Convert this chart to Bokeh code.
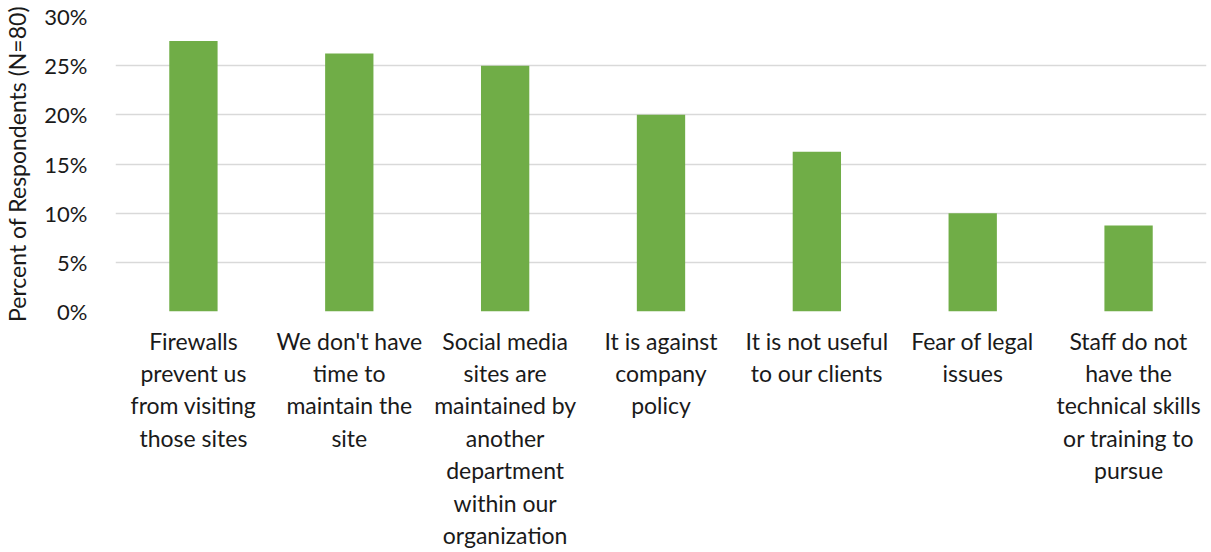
from bokeh.plotting import figure
from bokeh.models import FixedTicker, Range1d
from bokeh.embed import file_html
from bokeh.resources import INLINE

categories = [
    "Firewalls\nprevent us\nfrom visiting\nthose sites",
    "We don't have\ntime to\nmaintain the\nsite",
    "Social media\nsites are\nmaintained by\nanother\ndepartment\nwithin our\norganization",
    "It is against\ncompany\npolicy",
    "It is not useful\nto our clients",
    "Fear of legal\nissues",
    "Staff do not\nhave the\ntechnical skills\nor training to\npursue",
]
percent = [27.5, 26.25, 25.0, 20.0, 16.25, 10.0, 8.75]
y_ticks = [0, 5, 10, 15, 20, 25, 30]
y_tick_labels = ["0%", "5%", "10%", "15%", "20%", "25%", "30%"]

FONT = "Lato"
TXT = "#1a1a1a"

p = figure(x_range=categories, y_range=Range1d(0, 30), width=1211, height=552,
           output_backend="svg", toolbar_location=None,
           min_border_left=112, min_border_right=5, min_border_top=16, min_border_bottom=241)

p.vbar(x=categories, top=percent, width=0.31, color="#70AD47", line_color=None)

p.outline_line_color = None
p.xgrid.grid_line_color = None
p.ygrid.grid_line_color = "#D9D9D9"
p.ygrid.grid_line_width = 1.5
p.yaxis.ticker = FixedTicker(ticks=y_ticks)
p.yaxis.major_label_overrides = {t: l for t, l in zip(y_ticks, y_tick_labels)}

for ax in (p.xaxis[0], p.yaxis[0]):
    ax.axis_line_color = None
    ax.major_tick_line_color = None
    ax.minor_tick_line_color = None
    ax.major_label_text_font = FONT
    ax.major_label_text_color = TXT

p.xaxis.major_label_text_font_size = "23px"
p.yaxis.major_label_text_font_size = "22px"
p.xaxis.major_label_standoff = 9
p.xaxis.major_label_text_line_height = 1.16
p.yaxis.major_label_standoff = 22
p.yaxis.axis_label = "Percent of Respondents (N=80)"
p.yaxis.axis_label_text_font = FONT
p.yaxis.axis_label_text_font_style = "normal"
p.yaxis.axis_label_text_font_size = "23px"
p.yaxis.axis_label_text_color = TXT
p.yaxis.axis_label_standoff = 10

open("out.html", "w").write(file_html(p, INLINE))
